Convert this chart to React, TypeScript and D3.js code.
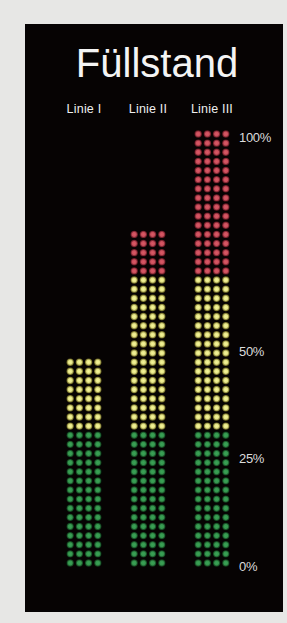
import { scaleBand, scaleLinear, scalePoint, range } from "d3";

const columns = ["Linie I", "Linie II", "Linie III"];
const levels = [48, 77, 100]; // Füllstand in %
const zoneLimits = [31, 67, 100]; // upper bound of each colour zone, %
const zoneNames = ["green", "yellow", "red"];
const tickValues = [0, 25, 50, 100];
const tickLabels = ["0%", "25%", "50%", "100%"];

const rowCount = 48;
const dotsPerRow = 4;

const zoneFill: Record<string, [string, string]> = {
  green: ["#3aa556", "#145a26"],
  yellow: ["#fafa96", "#aaa232"],
  red: ["#de5866", "#9a2032"],
};

export default function App() {
  const width = 287;
  const height = 623;

  const x = scaleBand().domain(columns).range([52, 244]);
  const dotX = scalePoint<number>().domain(range(dotsPerRow)).range([-13.8, 13.8]);
  const rowY = scaleLinear().domain([0, rowCount - 1]).range([563, 134]);
  const pctY = scaleLinear().domain([0, 100]).range([563, 134]);

  const zoneOf = (row: number) => {
    const pct = ((row + 0.5) / rowCount) * 100;
    const k = zoneLimits.findIndex((limit) => pct < limit);
    return zoneNames[k < 0 ? zoneNames.length - 1 : k];
  };

  return (
    <svg
      width={width}
      height={height}
      style={{ position: "absolute", left: 0, top: 0 }}
      fontFamily="'Liberation Sans', Arial, sans-serif"
    >
      <defs>
        {zoneNames.map((name) => (
          <radialGradient key={name} id={`dot-${name}`}>
            <stop offset="0%" stopColor={zoneFill[name][0]} />
            <stop offset="55%" stopColor={zoneFill[name][0]} stopOpacity={0.9} />
            <stop offset="100%" stopColor={zoneFill[name][1]} stopOpacity={0.55} />
          </radialGradient>
        ))}
        <filter id="soft">
          <feGaussianBlur stdDeviation={0.45} />
        </filter>
      </defs>

      <rect width={width} height={height} fill="#e7e7e5" />
      <rect x={25} y={24} width={258} height={588} fill="#060303" />

      <text x={157} y={77} textAnchor="middle" fontSize={40} fill="#f4f4f4">
        Füllstand
      </text>

      {columns.map((col) => (
        <text
          key={col}
          x={(x(col) ?? 0) + x.bandwidth() / 2}
          y={113}
          textAnchor="middle"
          fontSize={12.5}
          letterSpacing={0.2}
          fill="#eeeeee"
        >
          {col}
        </text>
      ))}

      <g filter="url(#soft)">
        {columns.map((col, ci) => {
          const cx = (x(col) ?? 0) + x.bandwidth() / 2;
          const rows = Math.round((levels[ci] / 100) * rowCount);
          return (
            <g key={col}>
              {range(rows).map((row) =>
                range(dotsPerRow).map((d) => (
                  <circle
                    key={`${row}-${d}`}
                    cx={cx + (dotX(d) ?? 0)}
                    cy={rowY(row)}
                    r={3.7}
                    fill={`url(#dot-${zoneOf(row)})`}
                  />
                ))
              )}
            </g>
          );
        })}
      </g>

      {tickValues.map((v, i) => (
        <text
          key={v}
          x={239}
          y={pctY(v)}
          dy={3}
          dominantBaseline="central"
          fontSize={13}
          letterSpacing={-0.3}
          fill="#dcdcdc"
        >
          {tickLabels[i]}
        </text>
      ))}
    </svg>
  );
}
